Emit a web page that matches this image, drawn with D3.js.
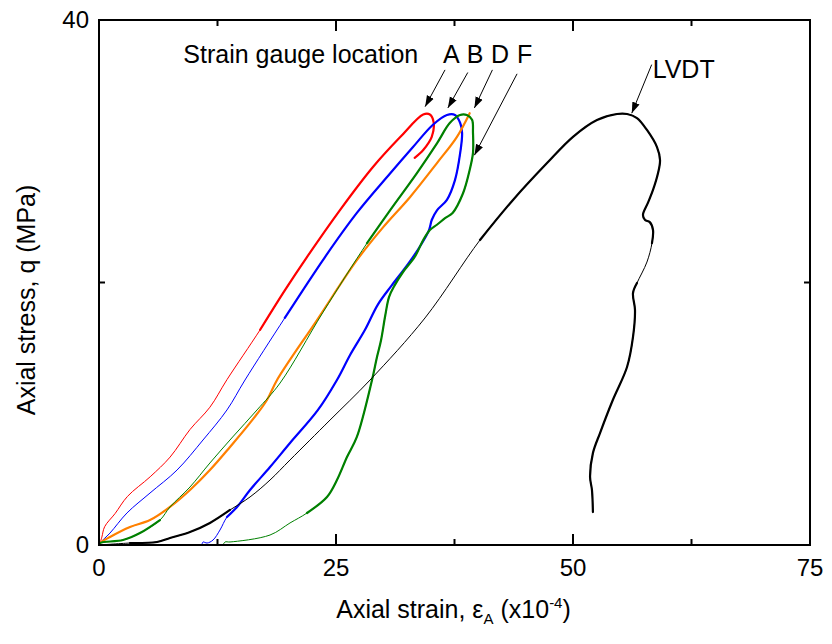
<!DOCTYPE html>
<html>
<head>
  <meta charset="utf-8">
  <title>Axial stress vs axial strain</title>
  <script src="https://d3js.org/d3.v7.min.js"></script>
  <style>
    body { margin: 0; background: #fff; }
    text { font-family: "Liberation Sans", Arial, sans-serif; fill: #000; }
  </style>
</head>
<body>
  <svg id="chart" width="832" height="644"></svg>

  <script>
// strain (x10^-4) and stress (MPa)
const aStrain = [0, 0.1, 0.3, 0.6, 1.7, 3.0, 5.4, 7.5, 9.6, 11.7, 13.5, 17.0, 19.6, 21.9, 25.4, 28.9, 31.8, 34.2, 34.9, 35.3, 35.1, 34.2, 33.3];
const aStress = [0, 0.15, 0.6, 1.4, 2.4, 3.7, 5.2, 6.7, 8.8, 10.5, 12.6, 16.4, 19.4, 21.9, 25.5, 28.8, 31.1, 32.8, 32.8, 32.2, 31.1, 30.1, 29.5];

const bStrain = [0, 0.1, 1.16, 2.95, 5.38, 8.23, 10.97, 13.5, 15.4, 19.6, 23.84, 27.2, 30.7, 33.1, 35.2, 36.7, 37.55, 38.1, 38.3, 38.1, 37.55, 36.7, 35.65, 35.1, 34.9, 34.7, 32.8, 30.9, 29.4, 28.06, 26.5, 25.1, 23.1, 20.15, 18.04, 15.93, 14.56, 13.5, 12.76, 12.03, 11.4, 10.97, 10.86];
const bStress = [0, 0.15, 0.91, 2.44, 3.96, 5.71, 8.0, 10.29, 12.57, 17.3, 21.94, 25.3, 28.3, 30.3, 32.0, 32.76, 32.76, 32.15, 31.4, 29.87, 27.8, 26.3, 25.5, 24.76, 24.2, 23.8, 21.6, 19.8, 18.3, 16.4, 14.5, 12.57, 10.29, 7.77, 5.94, 4.19, 2.9, 2.13, 1.14, 0.38, 0.15, 0.23, 0];

const dStrain = [0, 0.1, 1.16, 3.27, 5.38, 7.49, 9.6, 11.7, 13.82, 15.93, 17.72, 18.78, 23.0, 27.2, 29.96, 32.8, 35.65, 37.76, 39.1];
const dStress = [0, 0.15, 0.61, 1.37, 1.9, 2.9, 4.19, 5.71, 7.47, 9.3, 11.05, 12.57, 17.14, 21.7, 24.2, 26.5, 29.1, 31.1, 32.9];

const fStrain = [0, 0.1, 2.53, 4.32, 6.43, 7.49, 9.6, 11.7, 14.1, 16.67, 19.1, 23.6, 28.27, 30.7, 33.5, 35.65, 37.0, 38.08, 38.8, 39.35, 39.45, 39.45, 39.1, 38.4, 37.3, 36.5, 35.65, 34.9, 34.2, 33.3, 32.07, 31.2, 30.6, 30.2, 29.75, 29.3, 28.8, 27.2, 26.16, 25.1, 24.05, 21.94, 20.15, 18.04, 13.82, 13.3, 13.08];
const fStress = [0, 0.15, 0.38, 0.91, 1.9, 2.9, 4.42, 6.25, 8.23, 10.29, 12.34, 17.7, 23.0, 25.5, 28.3, 30.6, 32.15, 32.76, 32.76, 32.4, 31.4, 29.87, 28.57, 26.8, 25.3, 24.9, 24.4, 24.0, 23.24, 21.94, 20.8, 19.8, 18.9, 17.5, 15.6, 14.25, 12.57, 8.23, 6.7, 4.95, 3.66, 2.44, 1.68, 0.76, 0.23, 0.23, 0];

const lvdtStrain = [0, 3.27, 6.12, 7.49, 9.6, 11.7, 13.82, 15.93, 18.04, 20.15, 24.37, 28.59, 34.39, 40.19, 43.67, 47.26, 50.0, 52.53, 54.64, 55.7, 56.75, 57.8, 58.86, 59.18, 58.97, 58.44, 57.9, 57.38, 57.6, 58.1, 58.44, 58.33, 57.8, 56.75, 56.33, 56.54, 56.33, 55.7, 54.2, 52.85, 52.1, 51.8, 52.0, 52.1];
const lvdtStress = [0, 0.15, 0.23, 0.53, 0.99, 1.68, 2.67, 3.66, 4.95, 6.48, 9.52, 12.57, 17.3, 23.24, 26.29, 29.1, 31.1, 32.38, 32.84, 32.84, 32.53, 31.62, 30.32, 29.33, 28.34, 27.05, 26.06, 25.14, 24.76, 24.6, 24.0, 23.0, 21.56, 19.96, 19.2, 17.9, 15.85, 13.56, 11.05, 8.53, 7.0, 5.18, 4.19, 2.51];

const gaugeLabels = ["A", "B", "D", "F"];
const xTicks = [0, 25, 50, 75];
const xMinorTicks = [12.5, 37.5, 62.5];
const yTicks = [0, 40];
const yInnerTicks = [20];

// label anchor (strain) and arrow from/to in data units
const gaugeLabelX = [36.3, 38.8, 41.35, 44.1];
const gaugeArrows = [
  [[36.5, 36.2], [34.4, 33.4]],
  [[38.9, 36.0], [36.8, 33.3]],
  [[41.5, 36.2], [39.6, 33.3]],
  [[44.1, 35.9], [39.6, 29.7]]
];
const lvdtArrow = [[58.3, 36.6], [56.2, 32.9]];

const margin = { top: 20, right: 22, bottom: 99, left: 99 };
const width = 832 - margin.left - margin.right;
const height = 644 - margin.top - margin.bottom;

const svg = d3.select("#chart");
const g = svg.append("g").attr("transform", `translate(${margin.left},${margin.top})`);

const x = d3.scaleLinear().domain([0, 75]).range([0, width]);
const y = d3.scaleLinear().domain([0, 40]).range([height, 0]);

const thin = 1, thick = 2.2;
// point index ranges drawn thick, the rest thin
const series = [
  { xs: aStrain, ys: aStress, color: "#ff0000", thickRanges: [[11, 22]] },
  { xs: bStrain, ys: bStress, color: "#0000ff", thickRanges: [[9, 37]] },
  { xs: dStrain, ys: dStress, color: "#ff8000", thickRanges: [[0, 18]] },
  { xs: fStrain, ys: fStress, color: "#008000", thickRanges: [[0, 4], [12, 41]] },
  { xs: lvdtStrain, ys: lvdtStress, color: "#000000", thickRanges: [[1, 6], [13, 31], [33, 43]] }
];

const line = d3.line()
  .x(d => x(d[0])).y(d => y(d[1]))
  .curve(d3.curveCatmullRom.alpha(0.5));

series.forEach(s => {
  const pts = s.xs.map((v, i) => [v, s.ys[i]]);
  g.append("path")
    .datum(pts)
    .attr("d", line)
    .attr("fill", "none")
    .attr("stroke", s.color)
    .attr("stroke-width", thin)
    .attr("stroke-linejoin", "round");
  s.thickRanges.forEach(r => {
    g.append("path")
      .datum(pts.slice(r[0], r[1] + 1))
      .attr("d", line)
      .attr("fill", "none")
      .attr("stroke", s.color)
      .attr("stroke-width", thick)
      .attr("stroke-linejoin", "round")
      .attr("stroke-linecap", "round");
  });
});

// frame
g.append("rect")
  .attr("width", width).attr("height", height)
  .attr("fill", "none").attr("stroke", "#000").attr("stroke-width", 2);

// ticks, pointing inward on all four sides
const tickG = g.append("g").attr("stroke", "#000").attr("stroke-width", 2);
xTicks.concat(xMinorTicks).forEach(t => {
  const len = xTicks.includes(t) ? 11 : 6;
  tickG.append("line").attr("x1", x(t)).attr("x2", x(t)).attr("y1", height).attr("y2", height - len);
  tickG.append("line").attr("x1", x(t)).attr("x2", x(t)).attr("y1", 0).attr("y2", len);
});
yInnerTicks.forEach(t => {
  tickG.append("line").attr("x1", 0).attr("x2", 6).attr("y1", y(t)).attr("y2", y(t));
  tickG.append("line").attr("x1", width).attr("x2", width - 6).attr("y1", y(t)).attr("y2", y(t));
});

// tick labels
g.selectAll(".xlab").data(xTicks).enter().append("text")
  .attr("x", d => x(d)).attr("y", height + 31)
  .attr("text-anchor", "middle").attr("font-size", 24)
  .text(d => d);
g.selectAll(".ylab").data(yTicks).enter().append("text")
  .attr("x", -10).attr("y", d => y(d) + 8)
  .attr("text-anchor", "end").attr("font-size", 24)
  .text(d => d);

// axis titles
const xt = svg.append("text")
  .attr("x", margin.left + width / 2 - 1).attr("y", 618)
  .attr("text-anchor", "middle").attr("font-size", 25);
xt.append("tspan").text("Axial strain, \u03b5");
xt.append("tspan").attr("font-size", 15).attr("dy", 6).text("A");
xt.append("tspan").attr("dy", -6).text(" (x10");
xt.append("tspan").attr("font-size", 15).attr("dy", -10).text("-4");
xt.append("tspan").attr("dy", 10).text(")");

svg.append("text")
  .attr("transform", "translate(35,300) rotate(-90)")
  .attr("text-anchor", "middle").attr("font-size", 25)
  .text("Axial stress, q (MPa)");

// annotations
svg.append("defs").append("marker")
  .attr("id", "head").attr("viewBox", "0 0 10 10")
  .attr("refX", 10).attr("refY", 5)
  .attr("markerWidth", 11).attr("markerHeight", 11)
  .attr("markerUnits", "userSpaceOnUse")
  .attr("orient", "auto")
  .append("path").attr("d", "M0,1.5 L10,5 L0,8.5 Z").attr("fill", "#000");

g.append("text")
  .attr("x", x(8.9)).attr("y", y(36.7))
  .attr("font-size", 25)
  .text("Strain gauge location");

g.selectAll(".gl").data(gaugeLabels).enter().append("text")
  .attr("x", (d, i) => x(gaugeLabelX[i])).attr("y", y(36.7))
  .attr("font-size", 25)
  .text(d => d);

gaugeArrows.concat([lvdtArrow]).forEach(a => {
  g.append("line")
    .attr("x1", x(a[0][0])).attr("y1", y(a[0][1]))
    .attr("x2", x(a[1][0])).attr("y2", y(a[1][1]))
    .attr("stroke", "#000").attr("stroke-width", 1)
    .attr("marker-end", "url(#head)");
});

g.append("text")
  .attr("x", x(58.4)).attr("y", y(35.6))
  .attr("font-size", 25)
  .text("LVDT");
  </script>
</body>
</html>
